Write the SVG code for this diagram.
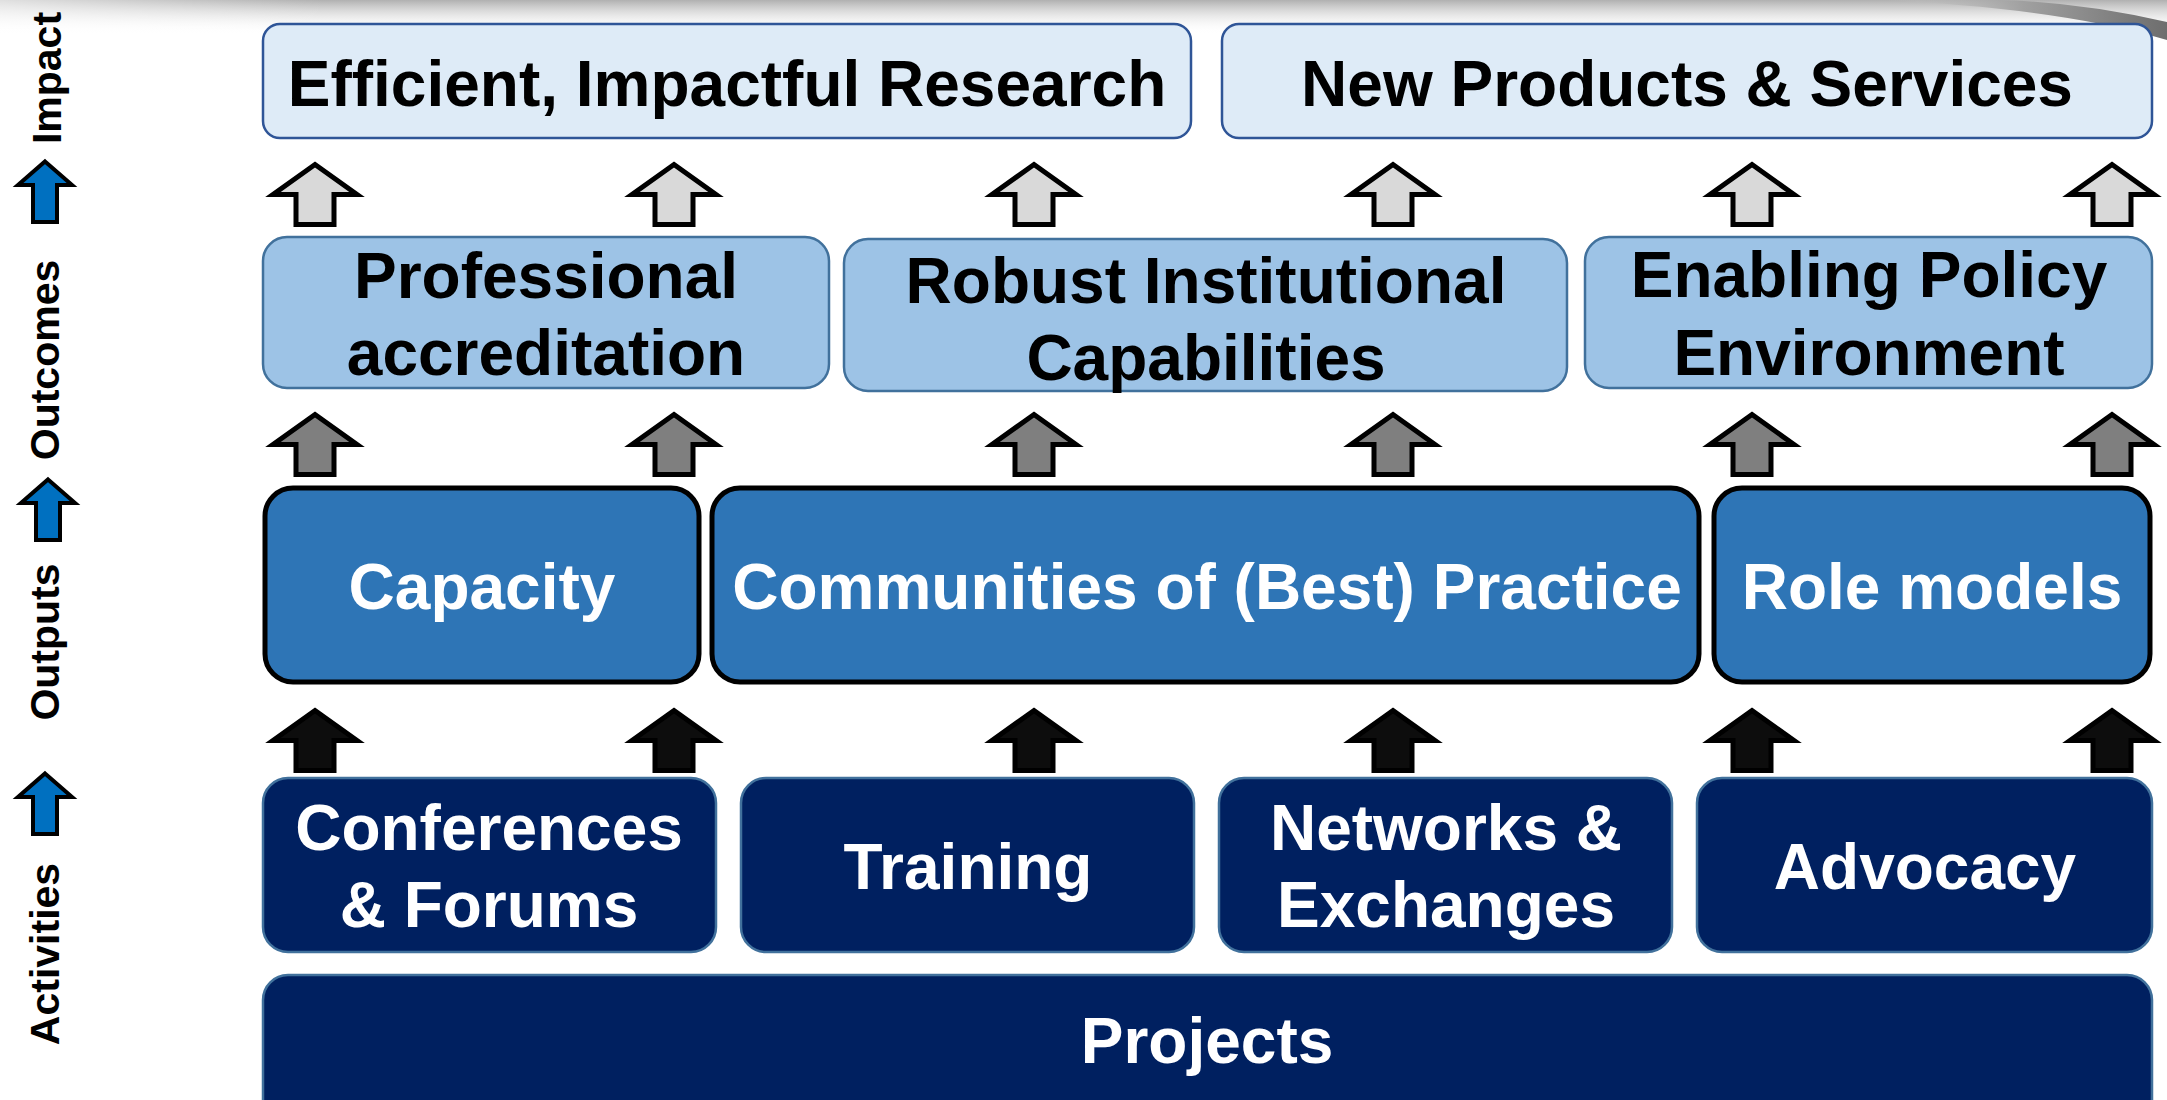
<svg xmlns="http://www.w3.org/2000/svg" xmlns:xlink="http://www.w3.org/1999/xlink" width="2167" height="1100" viewBox="0 0 2167 1100">
<style>
  text { font-family: "Liberation Sans", Arial, sans-serif; font-weight: bold; text-anchor: middle; }
  .t64 { font-size: 64px; }
  .dark { fill: #000000; }
  .light { fill: #FFFFFF; }
  .lbl { font-size: 41px; fill: #000000; }
  .impact { fill: #DEEBF7; stroke: #2F5597; stroke-width: 2.5; }
  .outcome { fill: #9DC3E6; stroke: #41719C; stroke-width: 2.5; }
  .output { fill: #2E75B6; stroke: #000000; stroke-width: 5; }
  .activity { fill: #002060; stroke: #41719C; stroke-width: 2.5; }
  .arr { stroke: #000000; stroke-width: 5; stroke-linejoin: miter; }
  .a-light { fill: #D9D9D9; }
  .a-gray { fill: #7F7F7F; }
  .a-black { fill: #0D0D0D; }
  .a-blue { fill: #0070C0; stroke: #000000; stroke-width: 4; }
</style>
<defs>
  <path id="up" d="M0,3.5 L42,33.5 L19,33.5 L19,63.5 L-19,63.5 L-19,33.5 L-42,33.5 Z"/>
  <path id="upblue" d="M0,3.5 L27,27 L12,27 L12,64 L-12,64 L-12,27 L-27,27 Z"/>
  <linearGradient id="topShade" x1="0" y1="0" x2="0" y2="1">
    <stop offset="0" stop-color="#B0B0B0"/>
    <stop offset="1" stop-color="#FFFFFF" stop-opacity="0"/>
  </linearGradient>
  <linearGradient id="topFadeX" x1="0" y1="0" x2="1" y2="0">
    <stop offset="0" stop-color="#FFFFFF" stop-opacity="0.6"/>
    <stop offset="0.15" stop-color="#FFFFFF" stop-opacity="0"/>
    <stop offset="1" stop-color="#FFFFFF" stop-opacity="0"/>
  </linearGradient>
  <linearGradient id="curl" x1="0" y1="0" x2="1" y2="0">
    <stop offset="0" stop-color="#C8C8C8" stop-opacity="0"/>
    <stop offset="0.5" stop-color="#A0A0A0"/>
    <stop offset="1" stop-color="#6E6E6E"/>
  </linearGradient>
</defs>

<rect x="0" y="0" width="2167" height="1100" fill="#FFFFFF"/>

<!-- top shading -->
<g id="page-shade">
  <rect x="0" y="0" width="2167" height="34" fill="url(#topShade)"/>
  <rect x="0" y="0" width="2167" height="34" fill="url(#topFadeX)"/>
  <path d="M1880,0 Q2060,8 2167,40 L2167,22 Q2080,2 2000,0 Z" fill="url(#curl)"/>
</g>

<!-- left axis labels -->
<g id="axis">
  <text class="lbl" transform="translate(61,78) rotate(-90)">Impact</text>
  <text class="lbl" transform="translate(59,360) rotate(-90)">Outcomes</text>
  <text class="lbl" transform="translate(59,642) rotate(-90)">Outputs</text>
  <text class="lbl" transform="translate(59,954) rotate(-90)">Activities</text>
  <use xlink:href="#upblue" class="a-blue" transform="translate(45,158)"/>
  <use xlink:href="#upblue" class="a-blue" transform="translate(48,476)"/>
  <use xlink:href="#upblue" class="a-blue" transform="translate(45,770)"/>
</g>

<!-- impact -->
<g id="node-efficient">
  <rect class="impact" x="263" y="24" width="928" height="114" rx="17"/>
  <text class="t64 dark" x="727" y="106">Efficient, Impactful Research</text>
</g>
<g id="node-products">
  <rect class="impact" x="1222" y="24" width="930" height="114" rx="17"/>
  <text class="t64 dark" x="1687" y="106">New Products &amp; Services</text>
</g>

<!-- outcomes -->
<g id="node-accreditation">
  <rect class="outcome" x="263" y="237" width="566" height="151" rx="24"/>
  <text class="t64 dark" x="546" y="298">Professional</text>
  <text class="t64 dark" x="546" y="375">accreditation</text>
</g>
<g id="node-institutional">
  <rect class="outcome" x="844" y="239" width="723" height="152" rx="24"/>
  <text class="t64 dark" x="1206" y="303">Robust Institutional</text>
  <text class="t64 dark" x="1206" y="380">Capabilities</text>
</g>
<g id="node-policy">
  <rect class="outcome" x="1585" y="237" width="567" height="151" rx="24"/>
  <text class="t64 dark" x="1869" y="297">Enabling Policy</text>
  <text class="t64 dark" x="1869" y="375">Environment</text>
</g>

<!-- outputs -->
<g id="node-capacity">
  <rect class="output" x="265" y="488" width="434" height="194" rx="28"/>
  <text class="t64 light" x="482" y="609">Capacity</text>
</g>
<g id="node-communities">
  <rect class="output" x="712" y="488" width="987" height="194" rx="28"/>
  <text class="t64 light" x="1207" y="609">Communities of (Best) Practice</text>
</g>
<g id="node-rolemodels">
  <rect class="output" x="1714" y="488" width="436" height="194" rx="28"/>
  <text class="t64 light" x="1932" y="609">Role models</text>
</g>

<!-- activities -->
<g id="node-conferences">
  <rect class="activity" x="263" y="778" width="453" height="174" rx="25"/>
  <text class="t64 light" x="489" y="850">Conferences</text>
  <text class="t64 light" x="489" y="927">&amp; Forums</text>
</g>
<g id="node-training">
  <rect class="activity" x="741" y="778" width="453" height="174" rx="25"/>
  <text class="t64 light" x="968" y="889">Training</text>
</g>
<g id="node-networks">
  <rect class="activity" x="1219" y="778" width="453" height="174" rx="25"/>
  <text class="t64 light" x="1446" y="850">Networks &amp;</text>
  <text class="t64 light" x="1446" y="927">Exchanges</text>
</g>
<g id="node-advocacy">
  <rect class="activity" x="1697" y="778" width="455" height="174" rx="25"/>
  <text class="t64 light" x="1925" y="889">Advocacy</text>
</g>
<g id="node-projects">
  <rect class="activity" x="263" y="975" width="1889" height="170" rx="25"/>
  <text class="t64 light" x="1207" y="1063">Projects</text>
</g>

<!-- connectors -->
<g id="connectors">
  <g class="arr a-light">
    <use xlink:href="#up" transform="translate(315,161)"/>
    <use xlink:href="#up" transform="translate(674,161)"/>
    <use xlink:href="#up" transform="translate(1034,161)"/>
    <use xlink:href="#up" transform="translate(1393,161)"/>
    <use xlink:href="#up" transform="translate(1752,161)"/>
    <use xlink:href="#up" transform="translate(2112,161)"/>
  </g>
  <g class="arr a-gray">
    <use xlink:href="#up" transform="translate(315,411)"/>
    <use xlink:href="#up" transform="translate(674,411)"/>
    <use xlink:href="#up" transform="translate(1034,411)"/>
    <use xlink:href="#up" transform="translate(1393,411)"/>
    <use xlink:href="#up" transform="translate(1752,411)"/>
    <use xlink:href="#up" transform="translate(2112,411)"/>
  </g>
  <g class="arr a-black">
    <use xlink:href="#up" transform="translate(315,707)"/>
    <use xlink:href="#up" transform="translate(674,707)"/>
    <use xlink:href="#up" transform="translate(1034,707)"/>
    <use xlink:href="#up" transform="translate(1393,707)"/>
    <use xlink:href="#up" transform="translate(1752,707)"/>
    <use xlink:href="#up" transform="translate(2112,707)"/>
  </g>
</g>
</svg>
